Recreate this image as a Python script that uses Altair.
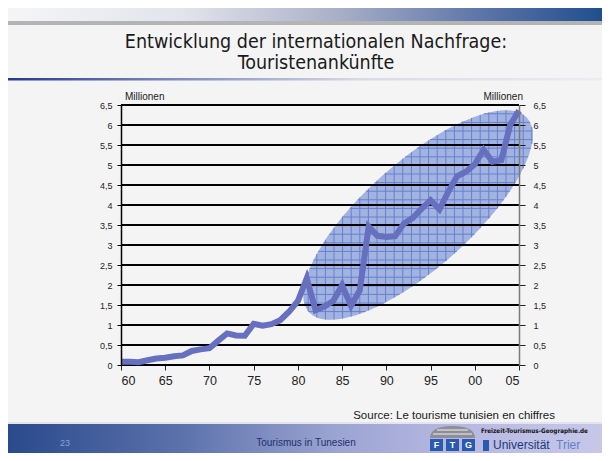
import math
import altair as alt
import pandas as pd

# ---------------- data ----------------
years = list(range(1960, 2006))
arrivals = [0.08, 0.08, 0.07, 0.12, 0.16, 0.18, 0.22, 0.24, 0.35, 0.39,
            0.42, 0.61, 0.79, 0.74, 0.73, 1.03, 0.98, 1.02, 1.12, 1.33,
            1.60, 2.17, 1.37, 1.46, 1.60, 2.00, 1.48, 1.87, 3.46, 3.23,
            3.20, 3.22, 3.54, 3.68, 3.91, 4.12, 3.89, 4.33, 4.72, 4.83,
            5.02, 5.38, 5.08, 5.12, 6.00, 6.36]
y_ticks = [0, 0.5, 1, 1.5, 2, 2.5, 3, 3.5, 4, 4.5, 5, 5.5, 6, 6.5]
x_ticks = [1960, 1965, 1970, 1975, 1980, 1985, 1990, 1995, 2000, 2005]
title_lines = ["Entwicklung der internationalen Nachfrage:", "Touristenankünfte"]
unit_label = "Millionen"
source_text = "Source: Le tourisme tunisien en chiffres"
footer_title = "Tourismus in Tunesien"
page_no = "23"

# ---------------- layout (page px -> plot px) ----------------
W, H = 398, 260
OX, OY = 121, 105  # page position of plot origin


def px(x):
    return x - OX


def py(y):
    return y - OY


df = pd.DataFrame({"year": years, "arrivals": arrivals})
ticks_df = pd.DataFrame({"v": y_ticks})
one = pd.DataFrame({"k": [0]})

xs = alt.Scale(domain=[1960, 2005], nice=False, zero=False)
ys = alt.Scale(domain=[0, 6.5], nice=False)
ylab = "replace(format(datum.value, '.1~f'), '.', ',')"

FONT = "Liberation Sans"


def rect(x1, x2, y1, y2, color):
    return alt.Chart(one).mark_rect(color=color).encode(
        x=alt.value(px(x1)), x2=alt.value(px(x2)),
        y=alt.value(py(y1)), y2=alt.value(py(y2)))


def text(t, x, y, size, color, align="left", font=FONT, weight="normal"):
    return alt.Chart(one).mark_text(
        text=t, align=align, baseline="middle", fontSize=size, font=font,
        color=color, fontWeight=weight).encode(x=alt.value(px(x)), y=alt.value(py(y)))


def grad(stops):
    return alt.LinearGradient(
        gradient="linear", x1=0, x2=1, y1=0, y2=0,
        stops=[alt.GradientStop(color=c, offset=o) for o, c in stops])


# ---------------- ellipse highlight (decoration) ----------------
ecx, ecy = px(418), py(215)
ea, eb, eth = 146.0, 53.0, math.radians(41.6)
c, s = math.cos(eth), math.sin(eth)


def rot(u, v):
    return (u * c + v * s, -u * s + v * c)


k = 0.5523
ctrl = [(-ea, 0),
        (-ea, -k * eb), (-k * ea, -eb), (0, -eb),
        (k * ea, -eb), (ea, -k * eb), (ea, 0),
        (ea, k * eb), (k * ea, eb), (0, eb),
        (-k * ea, eb), (-ea, k * eb), (-ea, 0)]
pts = [rot(u, v) for u, v in ctrl]
epath = "M %.2f %.2f" % pts[0]
for i in range(1, len(pts), 3):
    epath += " C %.2f %.2f %.2f %.2f %.2f %.2f" % (pts[i] + pts[i + 1] + pts[i + 2])
epath += " Z"

A = s * s / ea ** 2 + c * c / eb ** 2
Bc = -2 * c * s / ea ** 2 + 2 * s * c / eb ** 2
Cc = c * c / ea ** 2 + s * s / eb ** 2
g = 8.6
segs = []
for i in range(-20, 21):
    d = i * g + 2
    disc = (Bc * d) ** 2 - 4 * A * (Cc * d * d - 1)
    if disc > 0:
        r1 = (-Bc * d - math.sqrt(disc)) / (2 * A)
        r2 = (-Bc * d + math.sqrt(disc)) / (2 * A)
        segs.append("M %.2f %.2f L %.2f %.2f" % (d, r1, d, r2))
    disc = (Bc * d) ** 2 - 4 * Cc * (A * d * d - 1)
    if disc > 0:
        r1 = (-Bc * d - math.sqrt(disc)) / (2 * Cc)
        r2 = (-Bc * d + math.sqrt(disc)) / (2 * Cc)
        segs.append("M %.2f %.2f L %.2f %.2f" % (r1, d, r2, d))
gpath = " ".join(segs)

ellipse = alt.Chart(one).mark_point(
    shape=epath, size=4, filled=True, color="#a3b3e1", opacity=1, strokeWidth=0
).encode(x=alt.value(ecx), y=alt.value(ecy))
hatch = alt.Chart(one).mark_point(
    shape=gpath, size=4, filled=False, color="#6482cc", opacity=1, strokeWidth=1
).encode(x=alt.value(ecx), y=alt.value(ecy))

# ---------------- gridlines + right axis ----------------
grid = alt.Chart(ticks_df).mark_rule(color="#000000", strokeWidth=2).encode(
    y=alt.Y("v:Q", scale=ys, axis=alt.Axis(
        orient="right", values=y_ticks, labelExpr=ylab, title=None, grid=False,
        domainColor="#7a7a7a", domainWidth=1.5, tickColor="#222222", tickWidth=1,
        tickSize=6, labelPadding=8, labelFontSize=9, labelFont=FONT,
        labelColor="#222222", zindex=2)),
    x=alt.value(0), x2=alt.value(W))

# ---------------- data line + left/bottom axes ----------------
line = alt.Chart(df).mark_line(color="#6670bf", strokeWidth=6).encode(
    x=alt.X("year:Q", scale=xs, axis=alt.Axis(
        values=x_ticks, format="d", labelExpr="slice(datum.label, 2)", title=None,
        grid=False, domain=False, tickColor="#222222", tickSize=5, tickWidth=1,
        labelFontSize=12.5, labelFont=FONT, labelColor="#222222", labelPadding=4)),
    y=alt.Y("arrivals:Q", scale=ys, axis=alt.Axis(
        orient="left", values=y_ticks, labelExpr=ylab, title=None, grid=False,
        domainColor="#000000", domainWidth=1.5, tickColor="#000000", tickSize=4,
        labelPadding=5, labelFontSize=9, labelFont=FONT, labelColor="#222222",
        zindex=2)))

# ---------------- slide decoration ----------------
top_bar = rect(0, 610, 0, 21, grad([(0, "#f6f6f8"), (0.3, "#e2e4ec"), (0.55, "#aab0c8"),
                                    (0.8, "#5a72a8"), (1, "#1c4c8c")]))
gray_strip = rect(0, 610, 21, 25, "#b4b4b4")
under = rect(0, 602, 78, 80.5, grad([(0, "#22348a"), (0.25, "#7080b8"), (0.6, "#d8dae6"),
                                      (1, "#ececf0")]))
TFONT = "DejaVu Sans Condensed"
t1 = text(title_lines[0], 316, 42, 19.5, "#1a1a1a", align="center", font=TFONT)
t2 = text(title_lines[1], 316, 63, 19.5, "#1a1a1a", align="center", font=TFONT)
mil_l = text(unit_label, 125, 97, 10, "#1a1a1a")
mil_r = text(unit_label, 523, 97, 10, "#1a1a1a", align="right")
src = text(source_text, 555, 416, 11.5, "#1a1a1a", align="right")

# footer (kept inside the visible page area)
FT = 422
LX = -22  # shift of the logo group so that it stays inside the page
footer_line = rect(0, 610, FT, FT + 2, "#e4e4ec")
footer = rect(0, 610, FT + 2, 455, grad([(0, "#27488a"), (0.3, "#5c72ac"), (0.55, "#9ca4d2"),
                                          (0.75, "#b6b8e2"), (1, "#c8c8ea")]))
pg = text(page_no, 60, 443, 9, "#8ea0d0")
ftitle = text(footer_title, 306, 443, 10, "#1f3070", align="center")

dome_path = "M -1 0.27 C -1 -0.13 -0.55 -0.27 0 -0.27 C 0.55 -0.27 1 -0.13 1 0.27 Z"
dome = alt.Chart(one).mark_point(
    shape=dome_path, size=2025, filled=True, color="#8e8e96", opacity=1, strokeWidth=0
).encode(x=alt.value(px(474.5 + LX)), y=alt.value(py(432)))
dome_l1 = alt.Chart(one).mark_rule(color="#f0f0f4", strokeWidth=1).encode(
    x=alt.value(px(459 + LX)), x2=alt.value(px(490 + LX)), y=alt.value(py(430)))
dome_l2 = alt.Chart(one).mark_rule(color="#f0f0f4", strokeWidth=1).encode(
    x=alt.value(px(455 + LX)), x2=alt.value(px(494 + LX)), y=alt.value(py(434)))
boxes = [rect(452 + LX + 16 * i, 465 + LX + 16 * i, 439, 451, "#2a5ab0") for i in range(3)]
letters = [text(ch, 458.5 + LX + 16 * i, 445, 9, "#ffffff", align="center", weight="bold")
           for i, ch in enumerate("FTG")]
fz = text("Freizeit-Tourismus-Geographie.de", 503 + LX, 431, 6.3, "#111111",
          font=TFONT, weight="bold")
icon = rect(505 + LX, 511 + LX, 440, 451, "#2a5ab0")
uni = text("Universität", 515 + LX, 445, 12, "#1c3a78")
trier = text("Trier", 578 + LX, 445, 12, "#5f80c8")

chart = alt.layer(
    top_bar, gray_strip, under, t1, t2, footer_line, footer, pg, ftitle,
    dome, dome_l1, dome_l2, *boxes, *letters, fz, icon, uni, trier, src,
    mil_l, mil_r, ellipse, hatch, grid, line
).resolve_axis(y="independent").properties(
    width=W, height=H,
    padding={"left": 113, "top": 97, "right": 83, "bottom": 88},
    autosize=alt.AutoSizeParams(type="none"),
    background="#f4f4f4",
).configure_view(stroke=None)

chart.save("out.html", embed_options={"renderer": "svg", "actions": False})
